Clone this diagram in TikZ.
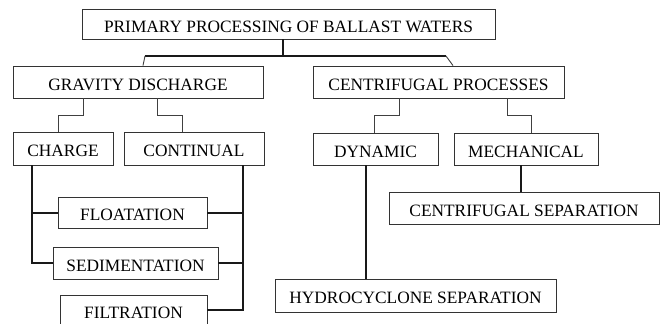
\documentclass[tikz,border=0pt]{standalone}
\usepackage{fontspec}
\setmainfont{Liberation Serif}
\begin{document}
\begin{tikzpicture}[x=1bp,y=-1bp,
  box/.style={draw=black!80,line width=0.9bp,inner sep=0pt,text height=16.5bp,text depth=0pt,font=\fontsize{17.4}{20}\selectfont},
  thickline/.style={draw=black!90,line width=2bp},
  thinline/.style={draw=black!75,line width=0.9bp}]
\useasboundingbox (0,0) rectangle (660,323);
\clip (0,0) rectangle (660,323);
\fill[white] (0,0) rectangle (660,323);
\node[box,minimum width=413bp,minimum height=30bp] (top) at (288.5,24) {PRIMARY PROCESSING OF BALLAST WATERS};
\node[box,minimum width=250bp,minimum height=32bp] (grav) at (138,82) {GRAVITY DISCHARGE};
\node[box,minimum width=251bp,minimum height=32bp] (cent) at (438.5,82) {CENTRIFUGAL PROCESSES};
\node[box,minimum width=100bp,minimum height=33bp] (charge) at (63,148.5) {CHARGE};
\node[box,minimum width=140bp,minimum height=33bp] (contin) at (194,148.5) {CONTINUAL};
\node[box,minimum width=125bp,minimum height=32bp] (dyn) at (375.5,149) {DYNAMIC};
\node[box,minimum width=144bp,minimum height=32bp] (mech) at (526,149) {MECHANICAL};
\node[box,minimum width=149bp,minimum height=31bp] (float) at (132.5,212.5) {FLOATATION};
\node[box,minimum width=165bp,minimum height=32bp] (sed) at (135.5,263) {SEDIMENTATION};
\node[box,minimum width=147bp,minimum height=30bp] (filt) at (133.5,310) {FILTRATION};
\node[box,minimum width=281bp,minimum height=33bp] (hydro) at (415.5,295.5) {HYDROCYCLONE SEPARATION};
\node[box,minimum width=270bp,minimum height=32bp] (csep) at (524,208) {CENTRIFUGAL SEPARATION};
% top level
\coordinate (jl) at (145,56);
\coordinate (jr) at (446,56);
\draw[thickline] ([xshift=-5.5bp]top.south) -- ([xshift=-5.5bp]top.south |- jl);
\draw[thickline] (jl) -- (jr);
\draw[thinline] (jl) -- ([xshift=5bp]grav.north);
\draw[thinline] (jr) -- ([xshift=14.5bp]cent.north);
% second level
\draw[thinline] ([xshift=-55bp]grav.south) -- ++(0,17) -| ([xshift=-5bp]charge.north);
\draw[thinline] ([xshift=19bp]grav.south) -- ++(0,17) -| ([xshift=-12bp]contin.north);
\draw[thinline] ([xshift=-39.5bp]cent.south) -- ++(0,17) -| ([xshift=-1.5bp]dyn.north);
\draw[thinline] ([xshift=68.5bp]cent.south) -- ++(0,17) -| ([xshift=5bp]mech.north);
% gravity leaves
\draw[thickline] ([xshift=-31bp]charge.south) |- (sed.west);
\draw[thickline] (float.west) -- ([xshift=-31bp]charge.south |- float.west);
\draw[thickline] ([xshift=49bp]contin.south) |- (filt.east);
\draw[thickline] (float.east) -- ([xshift=49bp]contin.south |- float.east);
\draw[thickline] (sed.east) -- ([xshift=49bp]contin.south |- sed.east);
% centrifugal leaves
\draw[thickline] ([xshift=-9.5bp]dyn.south) -- ([xshift=-9.5bp]dyn.south |- hydro.north);
\draw[thickline] ([xshift=-5bp]mech.south) -- ([xshift=-5bp]mech.south |- csep.north);
\end{tikzpicture}
\end{document}
